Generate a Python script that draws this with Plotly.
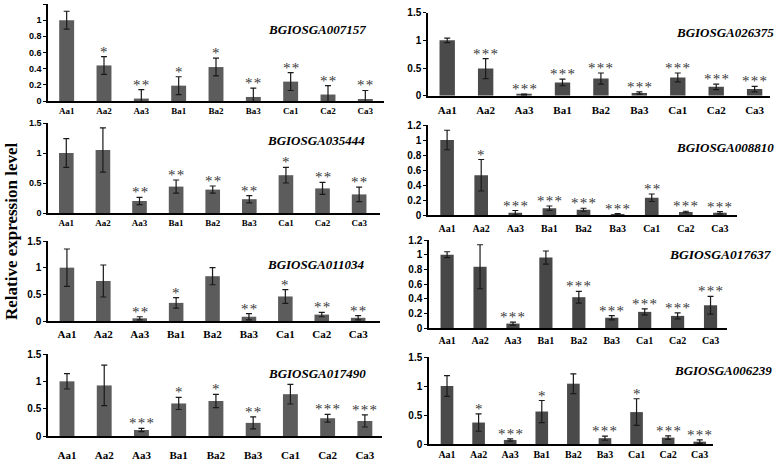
import plotly.graph_objects as go

categories = ["Aa1", "Aa2", "Aa3", "Ba1", "Ba2", "Ba3", "Ca1", "Ca2", "Ca3"]

genes = ["BGIOSGA007157", "BGIOSGA026375", "BGIOSGA035444", "BGIOSGA008810",
         "BGIOSGA011034", "BGIOSGA017637", "BGIOSGA017490", "BGIOSGA006239"]

val_007157 = [1.0, 0.44, 0.03, 0.19, 0.42, 0.05, 0.24, 0.08, 0.02]
err_007157 = [0.11, 0.11, 0.11, 0.11, 0.11, 0.11, 0.11, 0.11, 0.11]
sig_007157 = ["", "*", "**", "*", "*", "**", "**", "**", "**"]

val_026375 = [1.0, 0.49, 0.02, 0.24, 0.31, 0.05, 0.33, 0.16, 0.12]
err_026375 = [0.04, 0.18, 0.01, 0.06, 0.10, 0.02, 0.08, 0.05, 0.05]
sig_026375 = ["", "***", "***", "***", "***", "***", "***", "***", "***"]

val_035444 = [1.0, 1.05, 0.20, 0.44, 0.39, 0.23, 0.63, 0.41, 0.31]
err_035444 = [0.24, 0.37, 0.06, 0.11, 0.06, 0.06, 0.13, 0.10, 0.12]
sig_035444 = ["", "", "**", "**", "**", "**", "*", "**", "**"]

val_008810 = [1.0, 0.53, 0.03, 0.09, 0.07, 0.01, 0.23, 0.04, 0.03]
err_008810 = [0.13, 0.21, 0.03, 0.03, 0.02, 0.01, 0.05, 0.01, 0.015]
sig_008810 = ["", "*", "***", "***", "***", "***", "**", "***", "***"]

val_011034 = [1.0, 0.75, 0.05, 0.34, 0.84, 0.08, 0.46, 0.12, 0.06]
err_011034 = [0.35, 0.30, 0.03, 0.10, 0.16, 0.06, 0.13, 0.04, 0.04]
sig_011034 = ["", "", "**", "*", "", "**", "*", "**", "**"]

val_017637 = [1.0, 0.835, 0.06, 0.96, 0.42, 0.14, 0.22, 0.165, 0.31]
err_017637 = [0.04, 0.30, 0.02, 0.09, 0.08, 0.03, 0.04, 0.04, 0.12]
sig_017637 = ["", "", "***", "", "***", "***", "***", "***", "***"]

val_017490 = [1.0, 0.925, 0.11, 0.595, 0.64, 0.24, 0.765, 0.325, 0.275]
err_017490 = [0.14, 0.37, 0.03, 0.11, 0.12, 0.11, 0.18, 0.07, 0.11]
sig_017490 = ["", "", "***", "*", "*", "**", "", "***", "***"]

val_006239 = [1.0, 0.37, 0.07, 0.56, 1.04, 0.10, 0.55, 0.11, 0.04]
err_006239 = [0.18, 0.15, 0.02, 0.19, 0.17, 0.035, 0.23, 0.03, 0.03]
sig_006239 = ["", "*", "***", "*", "", "***", "*", "***", "***"]

y_max = [1.2, 1.5, 1.5, 1.2, 1.5, 1.2, 1.5, 1.5]
y_step = [0.2, 0.5, 0.5, 0.2, 0.5, 0.2, 0.5, 0.5]

values = [val_007157, val_026375, val_035444, val_008810, val_011034, val_017637, val_017490, val_006239]
errors = [err_007157, err_026375, err_035444, err_008810, err_011034, err_017637, err_017490, err_006239]
signif = [sig_007157, sig_026375, sig_035444, sig_008810, sig_011034, sig_017637, sig_017490, sig_006239]

W, H = 778, 460
# panel geometry in pixels
panels = [
    dict(x0=48, x1=384, yt=4, yb=101, xr=[-0.5, 8.5], gap=0, cf=9, tf=9, gx=368, gy=30, gs=13),
    dict(x0=428, x1=770, yt=12.7, yb=95.7, xr=[-0.5, 8.4], gap=3, cf=11, tf=10, gx=776, gy=32, gs=13),
    dict(x0=48, x1=380, yt=123, yb=213, xr=[-0.5, 8.57], gap=0, cf=9, tf=9, gx=367, gy=140, gs=13),
    dict(x0=428, x1=737, yt=125, yb=215, xr=[-0.56, 8.5], gap=3, cf=10, tf=10, gx=776, gy=147, gs=13),
    dict(x0=48, x1=380, yt=241, yb=321, xr=[-0.52, 8.6], gap=2, cf=11, tf=10, gx=367, gy=264, gs=13),
    dict(x0=429, x1=727, yt=240, yb=328, xr=[-0.55, 8.5], gap=2, cf=10, tf=10, gx=774, gy=254, gs=13.5),
    dict(x0=48, x1=382, yt=354, yb=436, xr=[-0.51, 8.46], gap=8, cf=11, tf=10, gx=368, gy=373, gs=13),
    dict(x0=429, x1=713, yt=357, yb=444, xr=[-0.57, 8.42], gap=0, cf=10, tf=10, gx=774, gy=370, gs=13),
]

bar_colors = ["#5c5c5c", "#4a4a4a", "#5c5c5c", "#4a4a4a", "#5c5c5c", "#474747", "#5c5c5c", "#4a4a4a"]

fig = go.Figure()
annotations = []
layout_axes = {}

for i, p in enumerate(panels):
    n = i + 1
    xa = "x" if n == 1 else f"x{n}"
    ya = "y" if n == 1 else f"y{n}"
    xkey = "xaxis" if n == 1 else f"xaxis{n}"
    ykey = "yaxis" if n == 1 else f"yaxis{n}"
    fig.add_trace(go.Bar(
        x=categories, y=values[i], xaxis=xa, yaxis=ya,
        marker=dict(color=bar_colors[i], line=dict(width=0)),
        width=0.4,
        error_y=dict(type="data", array=errors[i], color="#1a1a1a", thickness=1.2, width=3),
        showlegend=False, hoverinfo="skip",
    ))
    ymax = y_max[i]
    tickvals = [round(k * y_step[i], 2) for k in range(int(round(ymax / y_step[i])) + 1)]
    ticktext = [("%g" % v) for v in tickvals]
    layout_axes[xkey] = dict(
        domain=[p["x0"] / W, p["x1"] / W], anchor=ya, range=p["xr"],
        type="category", showline=True, linecolor="black", linewidth=1.5,
        showgrid=False, zeroline=False, automargin=False,
        ticks="outside" if p["gap"] > 0 else "", ticklen=max(p["gap"], 1),
        tickcolor="rgba(0,0,0,0)",
        tickfont=dict(family="Liberation Serif", size=p["cf"], color="black", weight="bold"),
    )
    layout_axes[ykey] = dict(
        domain=[1 - p["yb"] / H, 1 - p["yt"] / H], anchor=xa, range=[0, ymax],
        showline=True, linecolor="black", linewidth=1.5, showgrid=False, zeroline=False,
        automargin=False,
        ticks="outside", ticklen=3, tickwidth=1, tickcolor="black",
        tickvals=tickvals, ticktext=ticktext,
        tickfont=dict(family="Liberation Sans", size=p["tf"], color="black", weight="bold"),
    )
    # gene name
    annotations.append(dict(
        x=p["gx"] / W, y=1 - p["gy"] / H, xref="paper", yref="paper",
        xanchor="right", yanchor="middle", showarrow=False,
        text=genes[i],
        font=dict(family="Liberation Serif", size=p["gs"], color="black",
                  weight="bold", style="italic"),
    ))
    # significance stars
    for c, v, e, s in zip(categories, values[i], errors[i], signif[i]):
        if s:
            annotations.append(dict(
                x=c, y=v + e, xref=xa, yref=ya, xanchor="center", yanchor="bottom",
                yshift=-5, showarrow=False, text="\u200a".join(s),
                font=dict(family="Liberation Serif", size=15, color="#3a3a3a"),
            ))

annotations.append(dict(
    x=11 / W, y=1 - 232 / H, xref="paper", yref="paper", xanchor="center", yanchor="middle",
    showarrow=False, textangle=-90, text="Relative expression level",
    font=dict(family="Liberation Serif", size=17, color="black", weight="bold"),
))

fig.update_layout(
    width=W, height=H, margin=dict(l=0, r=0, t=0, b=0, autoexpand=False),
    paper_bgcolor="white", plot_bgcolor="white",
    annotations=annotations, bargap=0.6, **layout_axes,
)

fig.write_html("out.html", config={"displayModeBar": False},
               post_script="document.body.style.margin='0';document.body.style.overflow='hidden';")
